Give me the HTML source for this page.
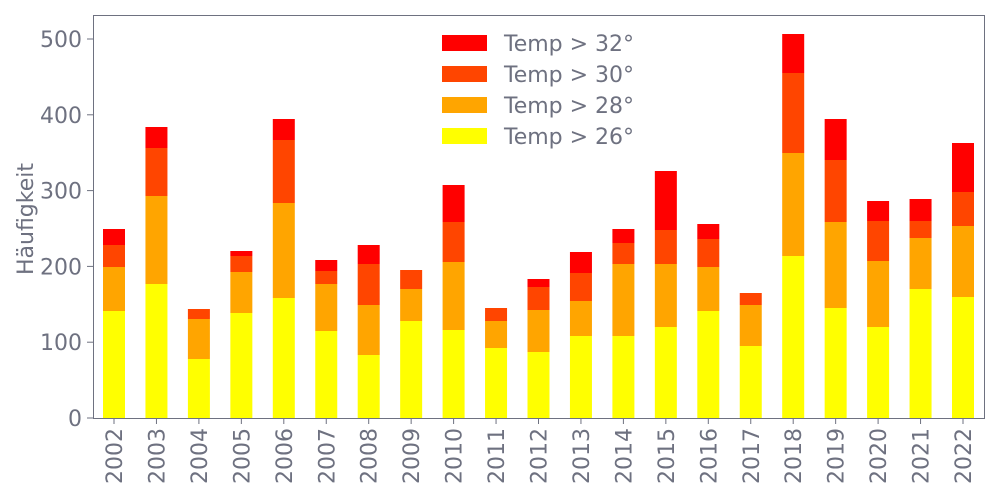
<!DOCTYPE html>
<html><head><meta charset="utf-8"><style>body{margin:0;background:#fff}svg{display:block}text{font-family:"DejaVu Sans","Liberation Sans",sans-serif;fill:#6e7180}</style></head>
<body>
<svg width="1000" height="500" xmlns="http://www.w3.org/2000/svg">
<g id="bars"></g>
<rect x="93.5" y="15.5" width="891" height="403" fill="none" stroke="#6e7180" stroke-width="1"/>
<g id="ax"></g>
<text x="33" y="219" font-size="22" text-anchor="middle" transform="rotate(-90 33 219)">Häufigkeit</text>
<g font-size="22">
<rect x="442" y="35" width="45" height="16" fill="#ff0000"/><text x="504" y="51">Temp &gt; 32°</text>
<rect x="442" y="66" width="45" height="16" fill="#ff4500"/><text x="504" y="82">Temp &gt; 30°</text>
<rect x="442" y="97" width="45" height="16" fill="#ffa500"/><text x="504" y="113">Temp &gt; 28°</text>
<rect x="442" y="128" width="45" height="16" fill="#ffff00"/><text x="504" y="144">Temp &gt; 26°</text>
</g>
</svg>
<script>
const d=[[311,267,245,229],[284,196,148,127],[359,319,309,309],[313,272,256,251],[298,203,140,119],[331,284,271,260],[355,305,264,245],[321,289,270,270],[330,262,222,185],[348,321,308,308],[352,310,287,279],[336,301,273,252],[336,264,243,229],[327,264,230,171],[311,267,239,224],[346,305,293,293],[256,153,73,34],[308,222,160,119],[327,261,221,201],[289,238,221,199],[297,226,192,143]];
const c=["#ffff00","#ffa500","#ff4500","#ff0000"];
let s="",a="";
d.forEach((v,i)=>{const x=114+i*42.45;let prev=418;
v.forEach((t,j)=>{if(prev-t>0)s+=`<rect x="${x-11}" y="${t}" width="22" height="${prev-t}" fill="${c[j]}"/>`;prev=t;});
a+=`<line x1="${x}" y1="418" x2="${x}" y2="424" stroke="#6e7180"/><text x="${x+8}" y="428" font-size="22" text-anchor="end" transform="rotate(-90 ${x+8} 428)">${2002+i}</text>`;});
[0,100,200,300,400,500].forEach(v=>{const y=418-v*0.758;a+=`<line x1="87" y1="${y}" x2="93" y2="${y}" stroke="#6e7180"/><text x="82" y="${y+8}" font-size="22" text-anchor="end">${v}</text>`;});
document.getElementById("bars").innerHTML=s;document.getElementById("ax").innerHTML=a;
</script>
</body></html>
